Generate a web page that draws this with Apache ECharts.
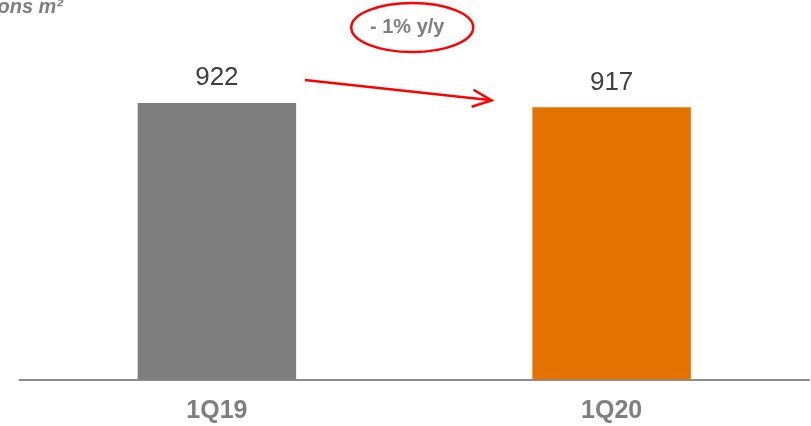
<!DOCTYPE html>
<html>
<head>
<meta charset="utf-8">
<script src="https://cdn.jsdelivr.net/npm/echarts@6/dist/echarts.min.js"></script>
<style>
  html, body { margin: 0; padding: 0; background: #ffffff; }
  #chart { width: 811px; height: 426px; }
</style>
</head>
<body>
<div id="chart"></div>
<script>
// Quarterly volumes
const categories = ['1Q19', '1Q20'];
const values = [922, 917];
const barColors = ['#7f7f7f', '#e47200'];
const changeLabel = '- 1% y/y';
const unitLabel = 'Millions m²';

const chart = echarts.init(document.getElementById('chart'), null, { renderer: 'canvas' });

const option = {
  animation: false,
  backgroundColor: '#ffffff',
  grid: { left: 19.5, right: 2, top: 79, bottom: 46.5, containLabel: false },
  xAxis: {
    type: 'category',
    data: categories,
    axisLine: { show: true, lineStyle: { color: '#8c8c8c', width: 2 } },
    axisTick: { show: false },
    axisLabel: {
      margin: 19,
      color: '#7f7f7f',
      fontFamily: 'Liberation Sans, Arial, sans-serif',
      fontWeight: 'bold',
      fontSize: 25
    }
  },
  yAxis: {
    type: 'value',
    min: 600,
    max: 950,
    show: false,
    splitLine: { show: false }
  },
  series: [{
    type: 'bar',
    barWidth: 158.5,
    data: values.map((v, i) => ({ value: v, itemStyle: { color: barColors[i] } })),
    label: {
      show: true,
      position: 'top',
      distance: 12,
      color: '#404040',
      fontFamily: 'Liberation Sans, Arial, sans-serif',
      fontSize: 26
    }
  }]
};

chart.setOption(option);

// Annotation: change arrow between the bar tops, circled percentage above
const p1 = chart.convertToPixel({ seriesIndex: 0 }, [0, values[0]]);
const p2 = chart.convertToPixel({ seriesIndex: 0 }, [1, values[1]]);
const start = [p1[0] + 88, p1[1] - 23];
const end = [p2[0] - 120, p2[1] - 7];
const ang = Math.atan2(end[1] - start[1], end[0] - start[0]);
const head = 21, spread = 0.42;
const wingA = [end[0] - head * Math.cos(ang - spread), end[1] - head * Math.sin(ang - spread)];
const wingB = [end[0] - head * Math.cos(ang + spread), end[1] - head * Math.sin(ang + spread)];
const midX = (p1[0] + p2[0]) / 2 - 2;

chart.setOption({
  graphic: [
    {
      type: 'text',
      x: 63, y: 17,
      style: {
        text: unitLabel,
        align: 'right',
        verticalAlign: 'bottom',
        fill: '#7f7f7f',
        font: 'italic bold 20px "Liberation Sans", Arial, sans-serif'
      }
    },
    {
      type: 'polyline',
      shape: { points: [start, end] },
      style: { stroke: '#ff0000', lineWidth: 2.5, fill: null }
    },
    {
      type: 'polyline',
      shape: { points: [wingA, end, wingB] },
      style: { stroke: '#ff0000', lineWidth: 2.5, fill: null }
    },
    {
      type: 'ellipse',
      shape: { cx: midX, cy: 27.5, rx: 61, ry: 24.5 },
      style: { stroke: '#ff0000', lineWidth: 2.5, fill: null }
    },
    {
      type: 'text',
      x: midX - 5, y: 27,
      style: {
        text: changeLabel,
        align: 'center',
        verticalAlign: 'middle',
        fill: '#7f7f7f',
        font: 'bold 20px "Liberation Sans", Arial, sans-serif'
      }
    }
  ]
});
</script>
</body>
</html>
